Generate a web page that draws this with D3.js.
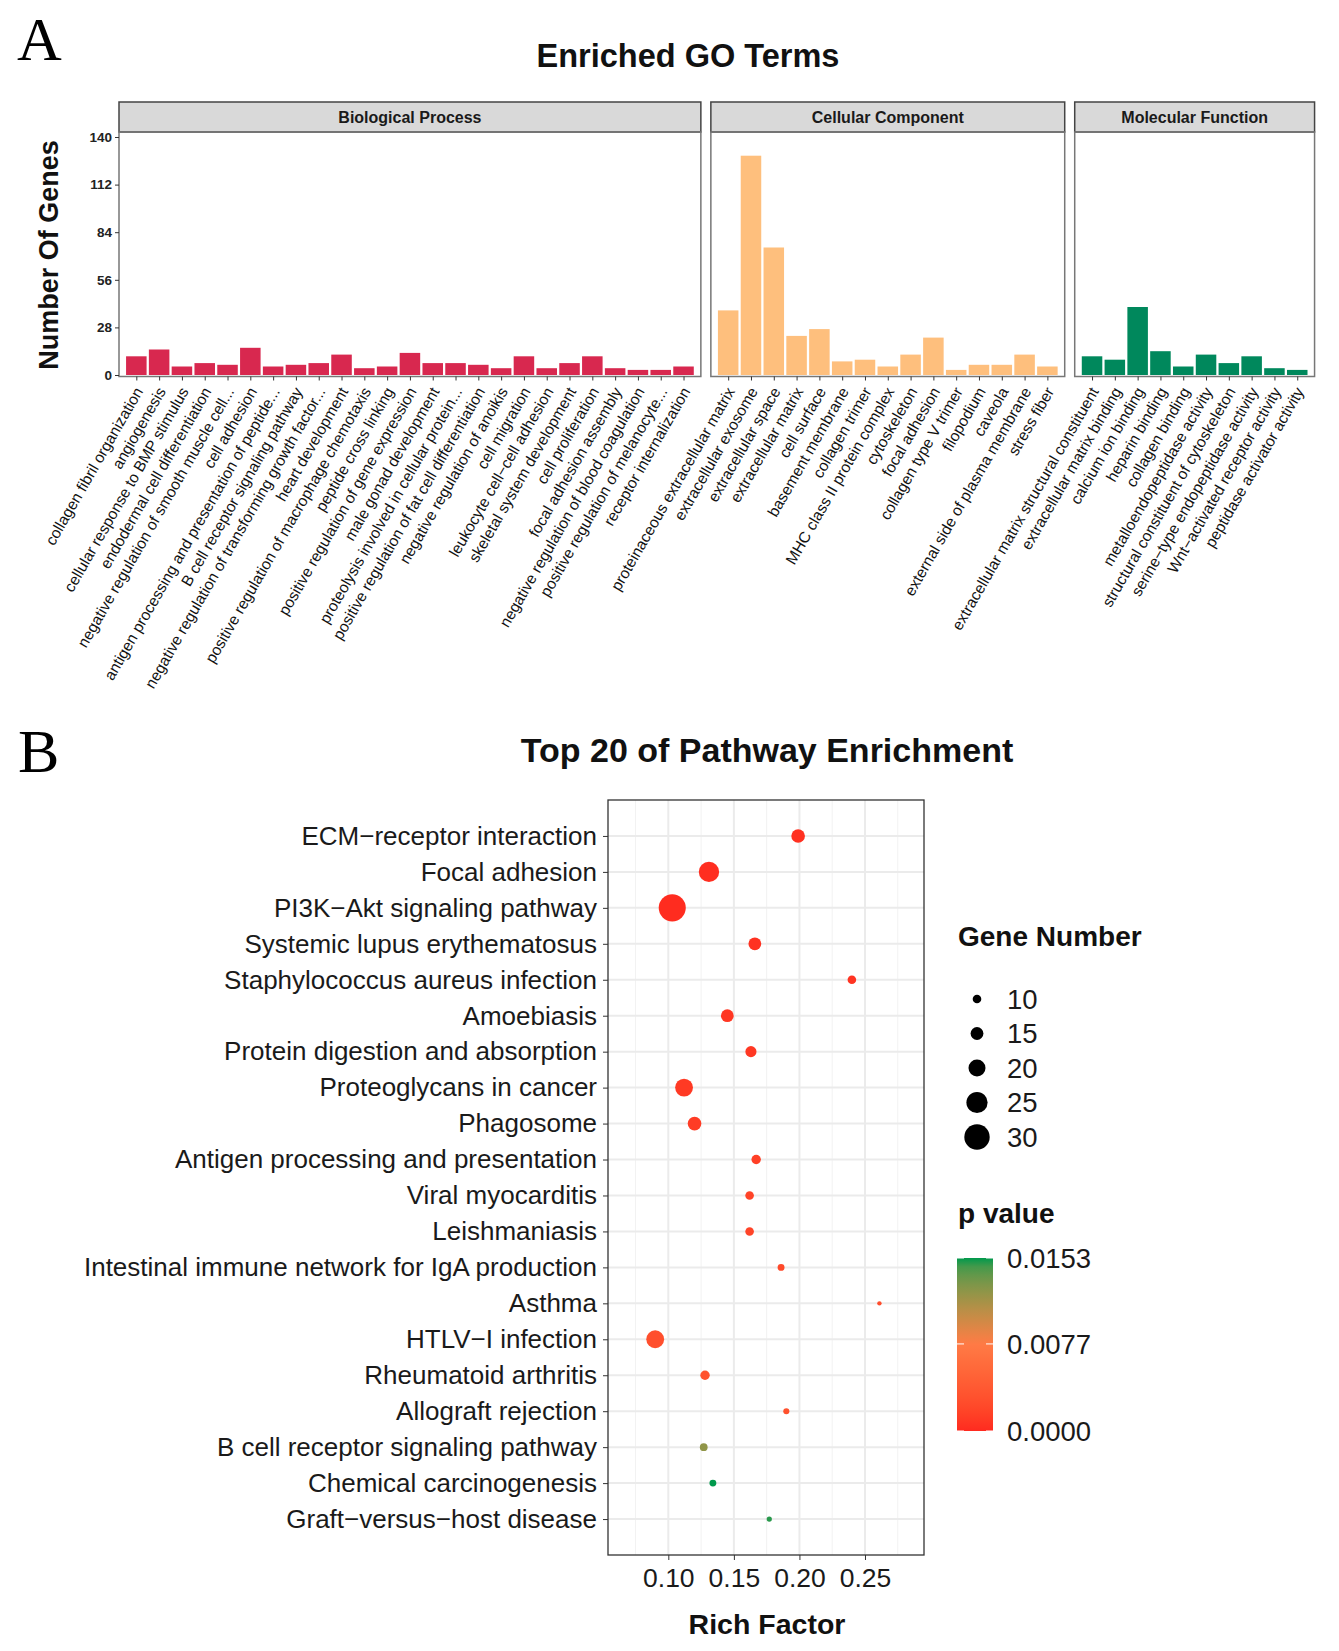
<!DOCTYPE html>
<html>
<head>
<meta charset="utf-8">
<script src="https://cdn.jsdelivr.net/npm/d3@7"></script>
<style>
  body { margin: 0; background: #fff; }
  svg { display: block; }
  text { font-family: "Liberation Sans", Arial, sans-serif; }
</style>
</head>
<body>
<div id="chart"></div>
<script>
// ---- panel A data: GO terms per ontology ----
const bpTerms = ["collagen fibril organization", "angiogenesis", "cellular response to BMP stimulus",
  "endodermal cell differentiation", "negative regulation of smooth muscle cell...", "cell adhesion",
  "antigen processing and presentation of peptide...", "B cell receptor signaling pathway",
  "negative regulation of transforming growth factor...", "heart development",
  "positive regulation of macrophage chemotaxis", "peptide cross linking",
  "positive regulation of gene expression", "male gonad development",
  "proteolysis involved in cellular protein...", "positive regulation of fat cell differentiation",
  "negative regulation of anoikis", "cell migration", "leukocyte cell−cell adhesion",
  "skeletal system development", "cell proliferation", "focal adhesion assembly",
  "negative regulation of blood coagulation", "positive regulation of melanocyte...",
  "receptor internalization"];
const bpCounts = [11, 15, 5, 7, 6, 16, 5, 6, 7, 12, 4, 5, 13, 7, 7, 6, 4, 11, 4, 7, 11, 4, 3, 3, 5];

const ccTerms = ["proteinaceous extracellular matrix", "extracellular exosome", "extracellular space",
  "extracellular matrix", "cell surface", "basement membrane", "collagen trimer",
  "MHC class II protein complex", "cytoskeleton", "focal adhesion", "collagen type V trimer",
  "filopodium", "caveola", "external side of plasma membrane", "stress fiber"];
const ccCounts = [38, 129, 75, 23, 27, 8, 9, 5, 12, 22, 3, 6, 6, 12, 5];

const mfTerms = ["extracellular matrix structural constituent", "extracellular matrix binding",
  "calcium ion binding", "heparin binding", "collagen binding", "metalloendopeptidase activity",
  "structural constituent of cytoskeleton", "serine−type endopeptidase activity",
  "Wnt−activated receptor activity", "peptidase activator activity"];
const mfCounts = [11, 9, 40, 14, 5, 12, 7, 11, 4, 3];

const geneTicks = [0, 28, 56, 84, 112, 140];

// ---- panel B data: top 20 KEGG pathways ----
const pathways = ["ECM−receptor interaction", "Focal adhesion", "PI3K−Akt signaling pathway",
  "Systemic lupus erythematosus", "Staphylococcus aureus infection", "Amoebiasis",
  "Protein digestion and absorption", "Proteoglycans in cancer", "Phagosome",
  "Antigen processing and presentation", "Viral myocarditis", "Leishmaniasis",
  "Intestinal immune network for IgA production", "Asthma", "HTLV−I infection",
  "Rheumatoid arthritis", "Allograft rejection", "B cell receptor signaling pathway",
  "Chemical carcinogenesis", "Graft−versus−host disease"];
const richFactor = [0.199, 0.131, 0.103, 0.166, 0.240, 0.145, 0.163, 0.112, 0.120, 0.167,
  0.162, 0.162, 0.186, 0.261, 0.090, 0.128, 0.190, 0.127, 0.134, 0.177];
const geneNumber = [16, 24, 32, 15, 10, 15, 13, 21, 16, 11, 10, 10, 8, 5, 21, 11, 7, 9, 8, 6];
const pValue = [0.0004, 0.0002, 0.0001, 0.0005, 0.0006, 0.0008, 0.0009, 0.0010, 0.0012, 0.0015,
  0.0018, 0.0018, 0.0022, 0.0026, 0.0028, 0.0032, 0.0030, 0.0123, 0.0153, 0.0150];

const richTicks = [0.10, 0.15, 0.20, 0.25];
const richMinor = [0.075, 0.125, 0.175, 0.225, 0.275];
const sizeBreaks = [10, 15, 20, 25, 30];
const pBreaks = [0.0000, 0.0077, 0.0153];

const svg = d3.select("#chart").append("svg")
  .attr("width", 1339)
  .attr("height", 1651);

// ================= Panel A =================
svg.append("text")
  .attr("x", 17).attr("y", 60)
  .style("font-family", "'Liberation Serif', 'Times New Roman', serif")
  .attr("font-size", "62px")
  .text("A");

svg.append("text")
  .attr("x", 688).attr("y", 67)
  .attr("text-anchor", "middle")
  .attr("font-size", "32.5px")
  .attr("font-weight", "bold")
  .attr("fill", "#111")
  .text("Enriched GO Terms");

const facets = [
  {name: "Biological Process", terms: bpTerms, counts: bpCounts, color: "#D8284F"},
  {name: "Cellular Component", terms: ccTerms, counts: ccCounts, color: "#FEBF7D"},
  {name: "Molecular Function", terms: mfTerms, counts: mfCounts, color: "#00885C"}
];

const step = 22.8, pad = 0.76, gapA = 10;
const stripTop = 102, plotTop = 132, plotBottom = 376.5;

const yA = d3.scaleLinear().domain([0, 140]).range([375, 137]);

let left = 119;
facets.forEach((f, fi) => {
  const w = (f.terms.length - 1 + 2 * pad) * step;
  const xs = d3.scalePoint().domain(f.terms).range([left, left + w]).padding(pad);
  const g = svg.append("g");

  // strip
  g.append("rect")
    .attr("x", left).attr("y", stripTop)
    .attr("width", w).attr("height", plotTop - stripTop)
    .attr("fill", "#D9D9D9")
    .attr("stroke", "#444").attr("stroke-width", 1.5);
  g.append("text")
    .attr("x", left + w / 2).attr("y", (stripTop + plotTop) / 2)
    .attr("dy", "0.36em")
    .attr("text-anchor", "middle")
    .attr("font-size", "16px")
    .attr("font-weight", "bold")
    .attr("fill", "#1a1a1a")
    .text(f.name);

  // bars
  g.selectAll("rect.bar")
    .data(f.terms)
    .enter()
    .append("rect")
    .attr("class", "bar")
    .attr("x", d => xs(d) - step * 0.45)
    .attr("width", step * 0.9)
    .attr("y", (d, i) => yA(f.counts[i]))
    .attr("height", (d, i) => yA(0) - yA(f.counts[i]))
    .attr("fill", f.color);

  // panel border
  g.append("rect")
    .attr("x", left).attr("y", plotTop)
    .attr("width", w).attr("height", plotBottom - plotTop)
    .attr("fill", "none")
    .attr("stroke", "#777").attr("stroke-width", 1.5);

  // x ticks and rotated labels
  const xAxis = g.append("g")
    .attr("transform", `translate(0,${plotBottom})`)
    .call(d3.axisBottom(xs).tickSize(4).tickSizeOuter(0));
  xAxis.select(".domain").remove();
  xAxis.selectAll("line").attr("stroke", "#333");
  xAxis.selectAll("text")
    .attr("x", 0).attr("y", 0)
    .attr("dy", "0.35em")
    .attr("transform", "translate(2,12) rotate(-60)")
    .style("text-anchor", "end")
    .attr("font-size", "15.5px")
    .attr("fill", "#111");

  if (fi === 0) {
    const yAxis = g.append("g")
      .attr("transform", `translate(${left},0)`)
      .call(d3.axisLeft(yA).tickValues(geneTicks).tickSize(4).tickSizeOuter(0));
    yAxis.select(".domain").remove();
    yAxis.selectAll("line").attr("stroke", "#333");
    yAxis.selectAll("text")
      .attr("font-size", "13.5px")
      .attr("font-weight", "bold")
      .attr("fill", "#222");
  }
  left += w + gapA;
});

svg.append("text")
  .attr("transform", "translate(58,255) rotate(-90)")
  .attr("text-anchor", "middle")
  .attr("font-size", "27px")
  .attr("font-weight", "bold")
  .attr("fill", "#111")
  .text("Number Of Genes");

// ================= Panel B =================
svg.append("text")
  .attr("x", 18).attr("y", 772)
  .style("font-family", "'Liberation Serif', 'Times New Roman', serif")
  .attr("font-size", "62px")
  .text("B");

svg.append("text")
  .attr("x", 767).attr("y", 762)
  .attr("text-anchor", "middle")
  .attr("font-size", "34px")
  .attr("font-weight", "bold")
  .attr("fill", "#111")
  .text("Top 20 of Pathway Enrichment");

const pb = {left: 608, right: 924, top: 800, bottom: 1555};

const xB = d3.scaleLinear().domain([0.054, 0.295]).range([pb.left, pb.right]);
const yB = d3.scalePoint().domain(pathways).range([pb.top, pb.bottom]).padding(1);
const rScale = d3.scaleLinear().domain([10, 30]).range([4.3, 12.7]);
const cScale = d3.scaleLinear()
  .domain(pBreaks)
  .range(["#FF2A1F", "#FF7A45", "#00994C"])
  .interpolate(d3.interpolateLab);

const gB = svg.append("g");

// grid
gB.selectAll("line.minor")
  .data(richMinor)
  .enter()
  .append("line")
  .attr("x1", d => xB(d)).attr("x2", d => xB(d))
  .attr("y1", pb.top).attr("y2", pb.bottom)
  .attr("stroke", "#F2F2F2").attr("stroke-width", 1);
gB.selectAll("line.vmajor")
  .data(richTicks)
  .enter()
  .append("line")
  .attr("x1", d => xB(d)).attr("x2", d => xB(d))
  .attr("y1", pb.top).attr("y2", pb.bottom)
  .attr("stroke", "#EBEBEB").attr("stroke-width", 2);
gB.selectAll("line.hmajor")
  .data(pathways)
  .enter()
  .append("line")
  .attr("x1", pb.left).attr("x2", pb.right)
  .attr("y1", d => yB(d)).attr("y2", d => yB(d))
  .attr("stroke", "#EBEBEB").attr("stroke-width", 2);

// points
gB.selectAll("circle.pt")
  .data(pathways)
  .enter()
  .append("circle")
  .attr("class", "pt")
  .attr("cx", (d, i) => xB(richFactor[i]))
  .attr("cy", d => yB(d))
  .attr("r", (d, i) => rScale(geneNumber[i]))
  .attr("fill", (d, i) => cScale(pValue[i]));

gB.append("rect")
  .attr("x", pb.left).attr("y", pb.top)
  .attr("width", pb.right - pb.left).attr("height", pb.bottom - pb.top)
  .attr("fill", "none")
  .attr("stroke", "#333").attr("stroke-width", 1.3);

// axes
const yAxisB = gB.append("g")
  .attr("transform", `translate(${pb.left},0)`)
  .call(d3.axisLeft(yB).tickSize(5).tickPadding(6));
yAxisB.select(".domain").remove();
yAxisB.selectAll("line").attr("stroke", "#333");
yAxisB.selectAll("text")
  .attr("font-size", "26px")
  .attr("fill", "#1a1a1a");

const xAxisB = gB.append("g")
  .attr("transform", `translate(0,${pb.bottom})`)
  .call(d3.axisBottom(xB).tickValues(richTicks).tickFormat(d3.format(".2f")).tickSize(5).tickPadding(8));
xAxisB.select(".domain").remove();
xAxisB.selectAll("line").attr("stroke", "#333");
xAxisB.selectAll("text")
  .attr("font-size", "26.5px")
  .attr("fill", "#1a1a1a");

svg.append("text")
  .attr("x", 767).attr("y", 1634)
  .attr("text-anchor", "middle")
  .attr("font-size", "28.5px")
  .attr("font-weight", "bold")
  .attr("fill", "#111")
  .text("Rich Factor");

// size legend
const legX = 958;
svg.append("text")
  .attr("x", legX).attr("y", 946)
  .attr("font-size", "28px")
  .attr("font-weight", "bold")
  .attr("fill", "#111")
  .text("Gene Number");

const sizeY = d3.scalePoint().domain(sizeBreaks).range([999, 1137]);
const sizeLeg = svg.append("g");
sizeLeg.selectAll("circle")
  .data(sizeBreaks)
  .enter()
  .append("circle")
  .attr("cx", 977)
  .attr("cy", d => sizeY(d))
  .attr("r", d => rScale(d))
  .attr("fill", "#000");
sizeLeg.selectAll("text")
  .data(sizeBreaks)
  .enter()
  .append("text")
  .attr("x", 1007)
  .attr("y", d => sizeY(d))
  .attr("dy", "0.36em")
  .attr("font-size", "27.5px")
  .attr("fill", "#1a1a1a")
  .text(d => d);

// colour legend
svg.append("text")
  .attr("x", legX).attr("y", 1223)
  .attr("font-size", "28px")
  .attr("font-weight", "bold")
  .attr("fill", "#111")
  .text("p value");

const cbar = {x: 957, w: 36, top: 1258, bottom: 1431};
const cbY = d3.scaleLinear().domain([0, 0.0153]).range([cbar.bottom, cbar.top]);

const grad = svg.append("defs").append("linearGradient")
  .attr("id", "pgrad")
  .attr("x1", "0").attr("y1", "1").attr("x2", "0").attr("y2", "0");
d3.range(0, 1.0001, 0.05).forEach(t => {
  grad.append("stop")
    .attr("offset", (t * 100) + "%")
    .attr("stop-color", cScale(t * 0.0153));
});

svg.append("rect")
  .attr("x", cbar.x).attr("y", cbar.top)
  .attr("width", cbar.w).attr("height", cbar.bottom - cbar.top)
  .attr("fill", "url(#pgrad)");

const cbTicks = svg.append("g");
pBreaks.forEach(v => {
  cbTicks.append("line")
    .attr("x1", cbar.x).attr("x2", cbar.x + 7)
    .attr("y1", cbY(v)).attr("y2", cbY(v))
    .attr("stroke", "#fff").attr("stroke-width", 1);
  cbTicks.append("line")
    .attr("x1", cbar.x + cbar.w - 7).attr("x2", cbar.x + cbar.w)
    .attr("y1", cbY(v)).attr("y2", cbY(v))
    .attr("stroke", "#fff").attr("stroke-width", 1);
});

svg.append("g").selectAll("text")
  .data(pBreaks)
  .enter()
  .append("text")
  .attr("x", 1007)
  .attr("y", d => cbY(d))
  .attr("dy", "0.36em")
  .attr("font-size", "27.5px")
  .attr("fill", "#1a1a1a")
  .text(d => d3.format(".4f")(d));
</script>
</body>
</html>
